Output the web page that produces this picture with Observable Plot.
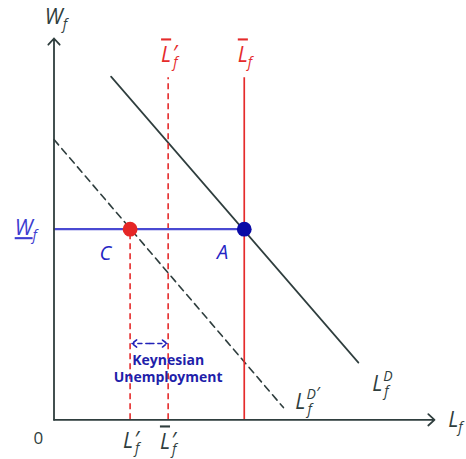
<!DOCTYPE html>
<html>
<head>
<meta charset="utf-8">
<script src="https://cdn.jsdelivr.net/npm/d3@7"></script>
<script src="https://cdn.jsdelivr.net/npm/@observablehq/plot@0.6"></script>
<style>
  html, body { margin: 0; padding: 0; background: #ffffff; }
  svg { overflow: visible; }
</style>
</head>
<body>
<div id="chart"></div>
<script>
// ---- data (abstract units) ----
const wageBar = 5;          // rigid real wage W_f
const laborBar = 5;         // full employment L̄_f
const laborBarP = 3;        // reduced L̄'_f
const laborP = 2;           // actual employment L'_f
const vTop = 8.97;          // top of vertical supply lines

const demand = [{x: 1.5, y: 9.0}, {x: 8.0, y: 1.5}];      // L_f^D
const demandP = [{x: 0, y: 7.35}, {x: 6.03, y: 0.32}];    // L_f^D'

const points = [
  {name: "C", x: laborP, y: wageBar, color: "#e52626"},
  {name: "A", x: laborBar, y: wageBar, color: "#0a0aa6"}
];

// label text: "base|sub|sup|deco"
const blackLabels = [
  {x: 0.05, y: 10.56, t: "W|f||"},
  {x: 10.55, y: -0.02, t: "L|f||"},
  {x: 2.03, y: -0.57, t: "L|f|′|"},
  {x: 3.0, y: -0.6, t: "L|f|′|bar"},
  {x: 8.63, y: 0.93, t: "L|f|D|"},
  {x: 6.66, y: 0.46, t: "L|f|D′|"}
];
const redLabels = [
  {x: 3.03, y: 9.55, t: "L|f|′|bar"},
  {x: 5.02, y: 9.55, t: "L|f||bar"}
];
const blueLabels = [
  {x: -0.74, y: 5.02, t: "W|f||under"}
];
const pointLabels = [
  {x: 1.35, y: 4.36, t: "C"},
  {x: 4.43, y: 4.38, t: "A"}
];
const noteLines = [
  {x: 3.0, y: 1.56, t: "Keynesian"},
  {x: 3.0, y: 1.11, t: "Unemployment"}
];
const gapY = 2.0;
const gapArrows = [
  {x1: 2.52, x2: 2.05, y: gapY},
  {x1: 2.52, x2: 2.97, y: gapY}
];

const axisColor = "#2f3e3e";
const red = "#e52b2b";
const font = "'Open Sans', sans-serif";

const chart = Plot.plot({
  width: 466,
  height: 459,
  marginLeft: 53.5,
  marginRight: 32,
  marginTop: 38,
  marginBottom: 39.7,
  x: {domain: [0, 10], axis: null},
  y: {domain: [0, 10], axis: null},
  style: {background: "#ffffff", fontFamily: font},
  marks: [
    // shifted demand (dashed)
    Plot.line(demandP, {x: "x", y: "y", stroke: axisColor, strokeWidth: 1.6, strokeDasharray: "7,5"}),
    // demand
    Plot.line(demand, {x: "x", y: "y", stroke: axisColor, strokeWidth: 1.7}),
    // vertical lines
    Plot.ruleX([laborBar], {x: d => d, y1: 0, y2: vTop, stroke: red, strokeWidth: 1.7}),
    Plot.ruleX([laborBarP], {x: d => d, y1: 0, y2: vTop, stroke: red, strokeWidth: 1.6, strokeDasharray: "6,4"}),
    Plot.ruleX([laborP], {x: d => d, y1: 0, y2: wageBar, stroke: red, strokeWidth: 1.6, strokeDasharray: "6,4"}),
    // wage line
    Plot.ruleY([wageBar], {y: d => d, x1: 0, x2: laborBar, stroke: "#4a4ad2", strokeWidth: 2.2}),
    // axes
    Plot.arrow([{x1: 0, y1: 0, x2: 10, y2: 0}], {x1: "x1", y1: "y1", x2: "x2", y2: "y2", stroke: axisColor, strokeWidth: 1.8, headLength: 7, headAngle: 85}),
    Plot.arrow([{x1: 0, y1: 0, x2: 0, y2: 10}], {x1: "x1", y1: "y1", x2: "x2", y2: "y2", stroke: axisColor, strokeWidth: 1.8, headLength: 7, headAngle: 85}),
    // gap arrows
    Plot.arrow(gapArrows, {x1: "x1", y1: "y", x2: "x2", y2: "y", stroke: "#2222b8", strokeWidth: 1.6, headLength: 5.5, headAngle: 75, strokeDasharray: "4,4"}),
    // points
    Plot.dot(points, {x: "x", y: "y", r: 7.4, fill: "color", stroke: "none"}),
    // labels
    Plot.text(blackLabels, {x: "x", y: "y", text: "t", fill: axisColor, fontSize: 21, fontStyle: "italic"}),
    Plot.text(redLabels, {x: "x", y: "y", text: "t", fill: red, fontSize: 21, fontStyle: "italic"}),
    Plot.text(blueLabels, {x: "x", y: "y", text: "t", fill: "#3c3cd0", fontSize: 21, fontStyle: "italic"}),
    Plot.text(pointLabels, {x: "x", y: "y", text: "t", fill: "#2424c4", fontSize: 20, fontStyle: "italic"}),
    Plot.text(noteLines, {x: "x", y: "y", text: "t", fill: "#1f1faa", fontSize: 14, fontWeight: "bold"}),
    Plot.text([0], {x: -0.41, y: -0.5, text: d => "0", fill: axisColor, fontSize: 17})
  ]
});

document.getElementById("chart").appendChild(chart);

// rich-text labels: base, subscript, superscript, decoration
const ns = "http://www.w3.org/2000/svg";
function span(parent, text, attrs) {
  const e = document.createElementNS(ns, "tspan");
  e.textContent = text;
  for (const k in attrs) e.setAttribute(k, attrs[k]);
  parent.appendChild(e);
  return e;
}
chart.querySelectorAll('g[aria-label="text"] text').forEach(t => {
  const s = t.textContent;
  if (!s.includes("|")) return;
  const [base, sub, sup, deco] = s.split("|");
  t.textContent = "";
  const attrs = {};
  if (deco === "bar") attrs.style = "text-decoration: overline";
  if (deco === "under") attrs.style = "text-decoration: underline";
  span(t, base, attrs);
  let supW = 0, raised = 0;
  if (sup) {
    const letters = sup.replace("′", "");
    const hasPrime = sup.includes("′");
    if (letters) {
      const p = span(t, letters, {"font-size": "14", dy: "-10", dx: "1"});
      supW += p.getComputedTextLength() + 1;
      raised = 10;
    }
    if (hasPrime) {
      const q = span(t, "′", {"font-size": letters ? "17" : "22", dx: letters ? "0" : "1", dy: letters ? "0" : "-1"});
      if (!letters) raised = 1;
      supW += q.getComputedTextLength() + (letters ? 0 : 1);
    }
  }
  if (sub) {
    span(t, sub, {"font-size": "14", dy: String(raised + 5), dx: sup ? String(-supW + 2) : "0"});
  }
});
</script>
</body>
</html>
